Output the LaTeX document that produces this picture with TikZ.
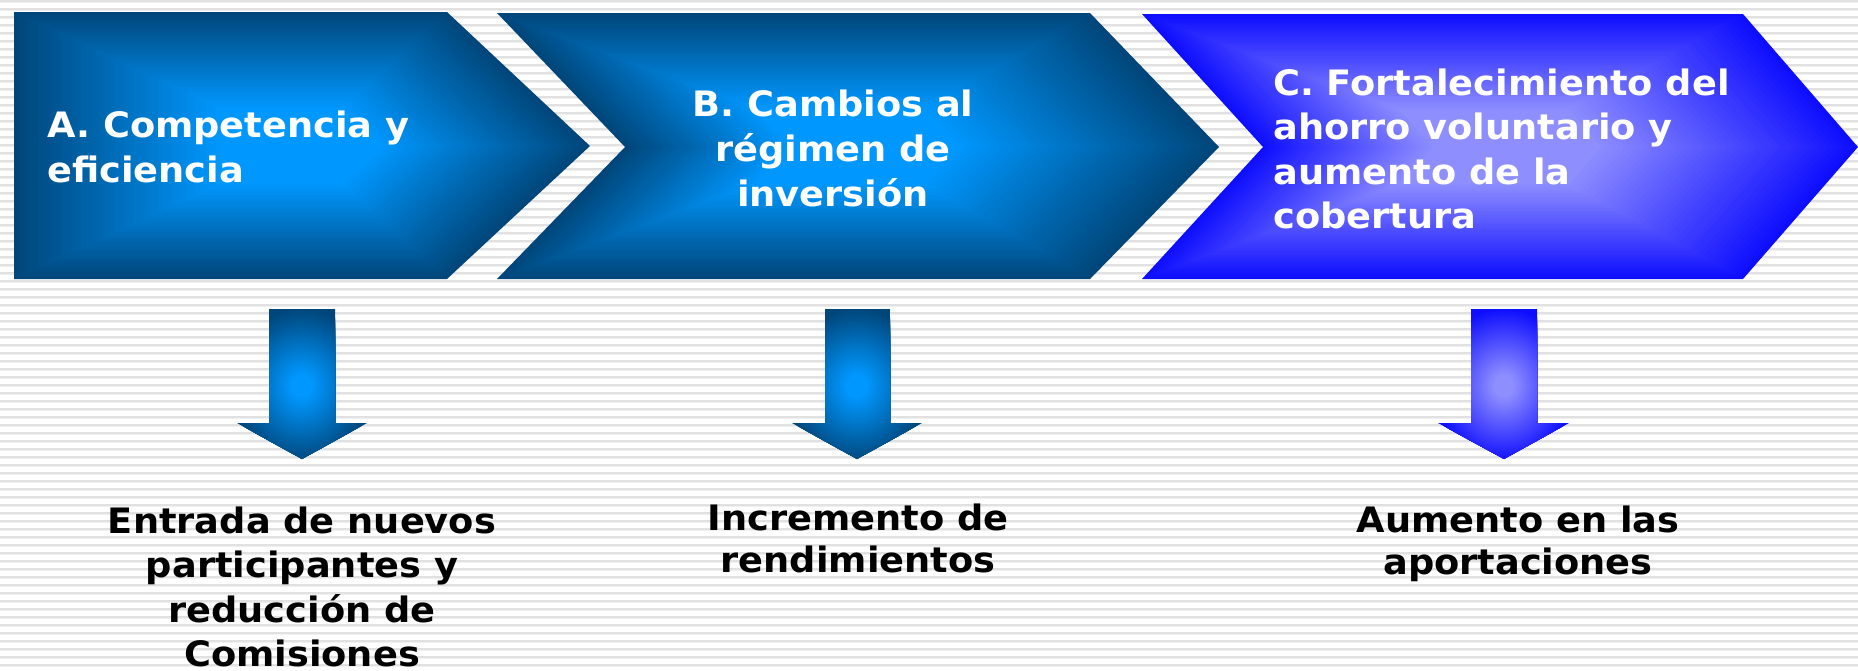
\documentclass[tikz,border=0pt]{standalone}
\usepackage{fontspec}
\newfontfamily\lab{DejaVu Sans}[FakeStretch=1.05]
\definecolor{abDark}{RGB}{0,70,122}
\definecolor{abBright}{RGB}{0,152,255}
\definecolor{cDark}{RGB}{14,14,255}
\definecolor{cBright}{RGB}{142,142,255}
\definecolor{stripe}{RGB}{225,225,225}
\definecolor{stripeLight}{RGB}{240,240,240}
% path gradient: #1 path, #2 cx, #3 cy, #4 dark colour, #5 bright colour
\newcommand\gradfill[5]{%
  \foreach \i in {0,...,59}{%
    \pgfmathsetmacro\s{1-\i/60}%
    \pgfmathsetmacro\p{min(100,\i/60*100/0.72)}%
    \begin{scope}[shift={(#2,#3)},scale=\s,shift={(-#2,-#3)}]
      \fill[#5!\p!#4] #1;
    \end{scope}
  }%
}
% elliptic gradient clipped to a path: #1 path, #2 cx, #3 cy, #4 rx, #5 ry, #6 dark, #7 bright
\newcommand\ellgrad[7]{%
  \begin{scope}
    \clip #1;
    \fill[#6] #1;
    \foreach \i in {0,...,49}{%
      \pgfmathsetmacro\s{1-\i/50}%
      \pgfmathsetmacro\p{min(100,\i/50*100/0.85)}%
      \fill[#7!\p!#6] (#2,#3) ellipse [x radius={#4*\s}, y radius={#5*\s}];
    }%
  \end{scope}
}
\tikzset{
  titletext/.style={text=white, inner sep=0pt, font=\lab\bfseries\fontsize{35}{45}\selectfont},
  titletextC/.style={text=white, inner sep=0pt, font=\lab\bfseries\fontsize{35}{44.5}\selectfont},
  resultA/.style={text=black, inner sep=0pt, font=\lab\bfseries\fontsize{35}{44.5}\selectfont},
  resultB/.style={text=black, inner sep=0pt, font=\lab\bfseries\fontsize{35}{42}\selectfont},
}
\begin{document}
\begin{tikzpicture}[x=1pt,y=-1pt]
\useasboundingbox (0,0) rectangle (1858,670);
% background stripes
\fill[white] (0,0) rectangle (1858,670);
\foreach \k in {0,...,84}{
  \pgfmathsetmacro\ya{8*\k}
  \pgfmathsetmacro\yb{8*\k+2}
  \pgfmathsetmacro\yc{8*\k+3}
  \fill[stripe] (0,\ya) rectangle (1858,\yb);
  \fill[stripeLight] (0,\yb) rectangle (1858,\yc);
}
% chevrons
\gradfill{(14,12) -- (447,12) -- (590,146) -- (447,279) -- (14,279) -- cycle}{302}{146}{abDark}{abBright}
\gradfill{(497,13) -- (1090,13) -- (1219,147) -- (1090,279) -- (497,279) -- (625,147) -- cycle}{858}{146}{abDark}{abBright}
\gradfill{(1142,14) -- (1743,14) -- (1858,147) -- (1743,279) -- (1142,279) -- (1263,147) -- cycle}{1500}{147}{cDark}{cBright}
% down arrows
\ellgrad{(269,309) -- (335,309) -- (335,423) -- (367,423) -- (302,459) -- (237,423) -- (269,423) -- cycle}{302}{386}{70}{78}{abDark}{abBright}
\ellgrad{(825,309) -- (890,309) -- (890,423) -- (922,423) -- (857,459) -- (792,423) -- (825,423) -- cycle}{857}{386}{70}{78}{abDark}{abBright}
\ellgrad{(1471,309) -- (1537,309) -- (1537,423) -- (1569,423) -- (1504,459) -- (1438,423) -- (1471,423) -- cycle}{1504}{386}{70}{78}{cDark}{cBright}
% titles
\node[titletext, anchor=base west] (tA) at (47,137)
  {\parbox[t]{420pt}{\raggedright A. Competencia y\\eficiencia}};
\node[titletext, anchor=base] (tB) at (833,116)
  {\parbox[t]{500pt}{\centering B. Cambios al\\régimen de\\inversión}};
\node[titletextC, anchor=base west] (tC) at (1273,95)
  {\parbox[t]{560pt}{\raggedright C. Fortalecimiento del\\ahorro voluntario y\\aumento de la\\cobertura}};
% results
\node[resultA, anchor=base] (rA) at (302,533)
  {\parbox[t]{500pt}{\centering Entrada de nuevos\\participantes y\\reducción de\\Comisiones}};
\node[resultB, anchor=base] (rB) at (858,530)
  {\parbox[t]{500pt}{\centering Incremento de\\rendimientos}};
\node[resultB, anchor=base] (rC) at (1518,532)
  {\parbox[t]{500pt}{\centering Aumento en las\\aportaciones}};
\end{tikzpicture}
\end{document}
